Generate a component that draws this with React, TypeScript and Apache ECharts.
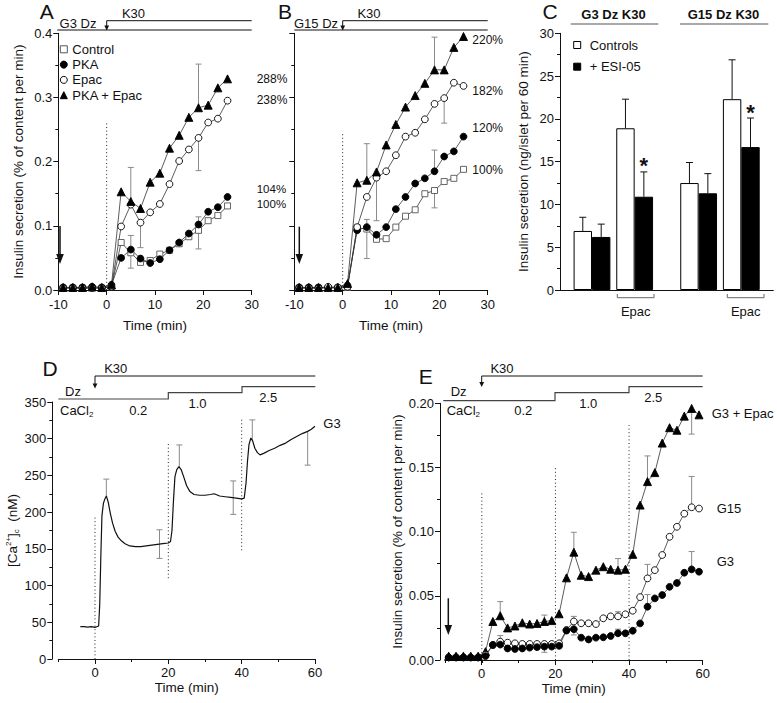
import React, { useEffect, useRef } from "react";
import * as echarts from "echarts";

const FONT = "Liberation Sans, Arial, Helvetica, sans-serif";
const INK = "#111";

// ---------- Panels A & B : perifusion time points (min) ----------
const timeAB = [-9, -7, -5, -3, -1, 1, 3, 5, 7, 9, 11, 13, 15, 17, 19, 21, 23, 25];
// Panel A (G3 Dz K30)
const aControl = [0.003, 0.003, 0.003, 0.003, 0.003, 0.005, 0.074, 0.058, 0.043, 0.046, 0.056, 0.062, 0.072, 0.083, 0.093, 0.108, 0.116, 0.131];
const aPKA = [0.004, 0.004, 0.004, 0.005, 0.004, 0.008, 0.05, 0.063, 0.049, 0.042, 0.048, 0.062, 0.074, 0.088, 0.102, 0.122, 0.129, 0.145];
const aEpac = [0.003, 0.003, 0.003, 0.003, 0.003, 0.005, 0.099, 0.133, 0.105, 0.121, 0.134, 0.165, 0.201, 0.219, 0.237, 0.261, 0.267, 0.295];
const aBoth = [0.004, 0.004, 0.004, 0.005, 0.004, 0.008, 0.153, 0.138, 0.127, 0.168, 0.182, 0.221, 0.241, 0.269, 0.284, 0.288, 0.315, 0.329];
// error bars: [time, from, to]
const aErr = [[5, 0.138, 0.191], [5, 0.063, 0.085], [5, 0.063, 0.034], [7, 0.105, 0.066], [19, 0.284, 0.352], [19, 0.237, 0.186], [19, 0.102, 0.114], [19, 0.093, 0.064]];
const aDotted = [[0, 0, 0.262]];
const aPercent = ["288%", "238%", "104%", "100%"];

// Panel B (G15 Dz K30)
const bControl = [0.003, 0.003, 0.003, 0.003, 0.003, 0.004, 0.097, 0.095, 0.079, 0.08, 0.098, 0.115, 0.125, 0.15, 0.155, 0.169, 0.174, 0.188];
const bPKA = [0.004, 0.004, 0.004, 0.004, 0.004, 0.007, 0.093, 0.098, 0.086, 0.098, 0.126, 0.145, 0.166, 0.174, 0.185, 0.208, 0.216, 0.239];
const bEpac = [0.003, 0.003, 0.003, 0.005, 0.004, 0.005, 0.098, 0.145, 0.175, 0.185, 0.21, 0.239, 0.245, 0.266, 0.29, 0.299, 0.323, 0.318];
const bBoth = [0.004, 0.004, 0.004, 0.004, 0.004, 0.01, 0.167, 0.171, 0.184, 0.226, 0.258, 0.285, 0.303, 0.322, 0.343, 0.343, 0.378, 0.395];
const bErr = [[5, 0.171, 0.228], [5, 0.098, 0.11], [5, 0.098, 0.049], [7, 0.175, 0.108], [19, 0.343, 0.394], [21, 0.299, 0.26], [19, 0.185, 0.218], [19, 0.155, 0.128]];
const bDotted = [[0, 0, 0.244]];
const bPercent = ["220%", "182%", "120%", "100%"];

// ---------- Panel C : bars ----------
const cCategories = ["s0", "G3", "s1", "G3 Epac", "s2", "s3", "G15", "s4", "G15 Epac", "s5"];
const cControls = ["-", 6.9, "-", 18.9, "-", "-", 12.5, "-", 22.3, "-"];
const cESI = ["-", 6.2, "-", 10.9, "-", "-", 11.3, "-", 16.7, "-"];
// [category index, mean, mean+SEM, side(-1 controls / +1 ESI), significant]
const cErr = [
  [1, 6.9, 8.5, -1, 0], [1, 6.2, 7.7, 1, 0],
  [3, 18.9, 22.3, -1, 0], [3, 10.9, 13.8, 1, 1],
  [6, 12.5, 14.9, -1, 0], [6, 11.3, 13.6, 1, 0],
  [8, 22.3, 26.9, -1, 0], [8, 16.7, 20.1, 1, 1],
];

// ---------- Panel D : [Ca2+]c trace ----------
const dTrace = [
  [-4, 44], [-3, 44], [-2, 43.5], [-1, 44], [0, 43], [0.5, 44], [1.0, 45], [1.3, 75], [1.6, 140], [1.9, 195],
  [2.3, 212], [2.7, 218], [3.1, 222], [3.6, 214], [4.2, 198], [4.8, 185], [5.5, 174], [6.3, 166], [7.2, 161],
  [8.2, 157], [9.5, 154], [11, 153], [12.5, 153], [14, 154], [15.5, 155], [17, 156], [18.5, 157], [20, 158],
  [20.6, 160], [21.0, 175], [21.4, 215], [21.8, 248], [22.3, 258], [22.9, 262], [23.5, 258], [24.2, 248],
  [25, 236], [25.9, 228], [27, 224], [28.5, 223], [30, 223], [31.5, 224], [32.5, 225], [34, 222], [35.5, 221],
  [37, 220], [38.5, 219], [40, 218], [40.7, 219], [41.2, 240], [41.6, 270], [42.0, 292], [42.5, 301],
  [43.0, 297], [43.6, 287], [44.3, 281], [45, 278], [46, 280], [47.5, 284], [49, 287], [50.5, 291], [52, 294],
  [53.5, 299], [55, 303], [56.5, 307], [58, 310], [59, 313], [60, 317],
];
const dErr = [[3.1, 222, 245], [17.6, 157, 176], [17.6, 157, 137], [23, 262, 291.5], [37.7, 220, 242.5], [37.7, 220, 197], [42.9, 298, 325.6], [58, 310, 264]];
const dDotted = [[0, 0, 194], [20, 110, 296], [40, 148, 326]];

// ---------- Panel E ----------
const timeE = [-9, -7, -5, -3, -1, 1, 3, 5, 7, 9, 11, 13, 15, 17, 19, 21, 23, 25, 27, 29, 31, 33, 35, 37, 39, 41, 43, 45, 47, 49, 51, 53, 55, 57, 59];
const eG3Epac = [0.003, 0.003, 0.003, 0.003, 0.003, 0.0065, 0.03, 0.0345, 0.025, 0.0265, 0.029, 0.028, 0.0285, 0.03, 0.0307, 0.036, 0.064, 0.084, 0.066, 0.065, 0.07, 0.0727, 0.0707, 0.07, 0.0707, 0.0823, 0.1207, 0.139, 0.146, 0.169, 0.181, 0.179, 0.19, 0.196, 0.191];
const eG15 = [0.002, 0.002, 0.002, 0.002, 0.002, 0.004, 0.0117, 0.0143, 0.0135, 0.013, 0.0125, 0.0125, 0.0125, 0.0125, 0.0125, 0.013, 0.0234, 0.03, 0.0286, 0.0286, 0.028, 0.0325, 0.034, 0.034, 0.0356, 0.0384, 0.049, 0.0636, 0.07, 0.0818, 0.096, 0.1038, 0.114, 0.119, 0.118];
const eG3 = [0.002, 0.002, 0.002, 0.002, 0.002, 0.003, 0.0117, 0.012, 0.009, 0.0086, 0.009, 0.0096, 0.01, 0.0104, 0.0104, 0.011, 0.0229, 0.024, 0.0174, 0.016, 0.0174, 0.0177, 0.0187, 0.0208, 0.0208, 0.0228, 0.0285, 0.0415, 0.048, 0.0506, 0.057, 0.06, 0.068, 0.0706, 0.0688];
const eErr = [
  [5, 0.0345, 0.0455], [17, 0.03, 0.035], [25, 0.084, 0.0995], [37, 0.07, 0.079], [45, 0.139, 0.159], [57, 0.196, 0.176],
  [5, 0.0143, 0.019], [17, 0.0104, 0.006], [25, 0.03, 0.034], [25, 0.024, 0.0195], [37, 0.034, 0.0376], [37, 0.0208, 0.024],
  [45, 0.0636, 0.0745], [45, 0.0415, 0.051], [57, 0.119, 0.143], [57, 0.0706, 0.0845],
];
const eDotted = [[0, 0, 0.131], [20, 0, 0.15], [40, 0, 0.183]];

const Y_NAME = "Insulin secretion (% of content per min)";

// ---------- renderers ----------
const errRender = (color: string, cap: number) => (params: any, api: any) => {
  const t = api.value(0);
  const p1 = api.coord([t, api.value(1)]);
  const p2 = api.coord([t, api.value(2)]);
  return {
    type: "group",
    children: [
      { type: "line", shape: { x1: p1[0], y1: p1[1], x2: p2[0], y2: p2[1] }, style: { stroke: color, lineWidth: 1 } },
      { type: "line", shape: { x1: p2[0] - cap, y1: p2[1], x2: p2[0] + cap, y2: p2[1] }, style: { stroke: color, lineWidth: 1 } },
    ],
  };
};

const dotRender = (params: any, api: any) => {
  const t = api.value(0);
  const p1 = api.coord([t, api.value(1)]);
  const p2 = api.coord([t, api.value(2)]);
  return {
    type: "line",
    shape: { x1: p1[0], y1: p1[1], x2: p2[0], y2: p2[1] },
    style: { stroke: "#222", lineWidth: 1, lineDash: [1, 2.6] },
  };
};

const BAR_W = 18.4;
const barErrRender = (params: any, api: any) => {
  const idx = api.value(0);
  const side = api.value(3);
  const star = api.value(4);
  const pBase = api.coord([idx, api.value(1)]);
  const pTop = api.coord([idx, api.value(2)]);
  const x = pBase[0] + (side * BAR_W) / 2;
  const children: any[] = [
    { type: "line", shape: { x1: x, y1: pBase[1], x2: x, y2: pTop[1] }, style: { stroke: "#111", lineWidth: 1 } },
    { type: "line", shape: { x1: x - 3.5, y1: pTop[1], x2: x + 3.5, y2: pTop[1] }, style: { stroke: "#111", lineWidth: 1 } },
  ];
  if (star) {
    children.push({
      type: "text",
      x,
      y: pTop[1] - 6,
      style: { text: "*", fill: "#111", fontSize: 22, fontWeight: "bold", fontFamily: FONT, textAlign: "center", textVerticalAlign: "middle" },
    });
  }
  return { type: "group", children };
};

// ---------- helpers ----------
const MARK: Record<string, any> = {
  square: { symbol: "rect", size: 6, fill: "#fff", stroke: "#555" },
  dot: { symbol: "circle", size: 6.8, fill: "#000", stroke: "#000" },
  ring: { symbol: "circle", size: 6.8, fill: "#fff", stroke: "#000" },
  tri: { symbol: "triangle", size: 8, fill: "#000", stroke: "#000" },
};

function markerSeries(name: string, t: number[], v: number[], idx: number, kind: string) {
  const m = MARK[kind];
  return {
    type: "line",
    name,
    xAxisIndex: idx,
    yAxisIndex: idx,
    data: t.map((x, i) => [x, v[i]]),
    symbol: m.symbol,
    symbolSize: m.size,
    showSymbol: true,
    lineStyle: { color: "#333", width: 0.8 },
    itemStyle: { color: m.fill, borderColor: m.stroke, borderWidth: 0.9 },
    emphasis: { disabled: true },
    z: 4,
  };
}

function customSeries(idx: number, data: any[], renderItem: any, z = 2) {
  return {
    type: "custom",
    xAxisIndex: idx,
    yAxisIndex: idx,
    data,
    renderItem,
    encode: { x: 0, y: [1, 2] },
    silent: true,
    z,
  };
}

function valueAxis(gridIndex: number, min: number, max: number, interval: number, opts: any = {}) {
  return {
    type: "value",
    gridIndex,
    min,
    max,
    interval,
    offset: opts.offset || 0,
    show: opts.show !== false,
    name: opts.name || "",
    nameLocation: "middle",
    nameGap: opts.nameGap || 25,
    nameMoveOverlap: false,
    nameTextStyle: { color: INK, fontSize: 13.5, fontFamily: FONT, rich: opts.rich },
    axisLine: { show: opts.line !== false, onZero: false, lineStyle: { color: INK, width: 1 } },
    axisTick: { show: opts.ticks !== false, length: opts.tickLen || 5, lineStyle: { color: INK, width: 1 } },
    minorTick: { show: !!opts.minor, splitNumber: opts.minor || 2, length: 3, lineStyle: { color: INK, width: 1 } },
    splitLine: { show: false },
    minorSplitLine: { show: false },
    axisLabel: {
      show: opts.labels !== false,
      color: INK,
      fontSize: 13,
      fontFamily: FONT,
      margin: opts.margin || 6,
      formatter: opts.formatter,
    },
  };
}

const T = (x: number, y: number, text: string, size = 13, align = "center", weight = "normal") => ({
  type: "text",
  x,
  y,
  silent: true,
  style: { text, fill: INK, fontSize: size, fontFamily: FONT, fontWeight: weight, textAlign: align, textVerticalAlign: "middle" },
});
const L = (x1: number, y1: number, x2: number, y2: number, color = INK, w = 1) => ({
  type: "line",
  silent: true,
  shape: { x1, y1, x2, y2 },
  style: { stroke: color, lineWidth: w },
});
const PL = (points: number[][], color = INK, w = 1) => ({
  type: "polyline",
  silent: true,
  shape: { points },
  style: { stroke: color, lineWidth: w, fill: null },
});
const TRI = (points: number[][]) => ({ type: "polygon", silent: true, shape: { points }, style: { fill: INK } });
const CACL = (x: number, y: number) => ({
  type: "text",
  x,
  y,
  silent: true,
  style: {
    text: "{a|CaCl}{b|2}",
    textAlign: "left",
    textVerticalAlign: "middle",
    rich: {
      a: { fontSize: 13, fontFamily: FONT, fill: INK, color: INK },
      b: { fontSize: 8, fontFamily: FONT, fill: INK, color: INK, padding: [8, 0, 0, 0] },
    },
  },
});
const smallArrow = (x: number, yTop: number, yTip: number) => [PL([[x, yTop], [x, yTip - 4]]), TRI([[x - 2.4, yTip - 5], [x + 2.4, yTip - 5], [x, yTip]])];
const bigArrow = (x: number, yTop: number, yTip: number) => [L(x, yTop, x, yTip - 8, INK, 1.5), TRI([[x - 3.8, yTip - 10], [x + 3.8, yTip - 10], [x, yTip]])];

function buildOption() {
  const graphic: any[] = [
    // Panel A
    T(46.7, 11, "A", 21),
    T(133.5, 13.5, "K30"),
    T(78, 23.5, "G3 Dz"),
    L(57.3, 30, 251.7, 30),
    PL([[251.7, 20.7], [106.7, 20.7]]),
    ...smallArrow(106.7, 20.7, 30.5),
    ...bigArrow(60, 226, 264),
    T(256.7, 78.7, aPercent[0], 12, "left"),
    T(256.7, 100, aPercent[1], 12, "left"),
    T(256.7, 189, aPercent[2], 11.5, "left"),
    T(256.7, 204, aPercent[3], 11.5, "left"),
    // Panel B
    T(285, 11.7, "B", 21),
    T(369, 13.5, "K30"),
    T(316, 23.5, "G15 Dz"),
    L(294.3, 30, 487.7, 30),
    PL([[487.7, 20.7], [342.7, 20.7]]),
    ...smallArrow(342.7, 20.7, 30.5),
    ...bigArrow(299.3, 226.7, 264),
    T(472.3, 40, bPercent[0], 12, "left"),
    T(472.3, 90.7, bPercent[1], 12, "left"),
    T(472.3, 128.3, bPercent[2], 12, "left"),
    T(472.3, 170, bPercent[3], 12, "left"),
    // Panel C
    T(550, 11.7, "C", 21),
    T(613.5, 14.5, "G3 Dz K30", 13, "center", "bold"),
    L(570.7, 24, 658.3, 24, "#555", 1.2),
    T(723.5, 14.5, "G15 Dz K30", 13, "center", "bold"),
    L(680, 24, 768.3, 24, "#555", 1.2),
    PL([[617.3, 294], [617.3, 297.7], [654, 297.7], [654, 294]], "#666"),
    T(635.7, 311.7, "Epac"),
    PL([[727.3, 294], [727.3, 297.7], [764, 297.7], [764, 294]], "#666"),
    T(745.7, 311.7, "Epac"),
    // Panel D
    T(50, 368.3, "D", 21),
    T(115.7, 368.3, "K30"),
    PL([[315.3, 376], [95, 376]]),
    ...smallArrow(95, 376, 388.5),
    T(65, 391.7, "Dz", 13, "left"),
    PL([[58.3, 399], [168.3, 399], [168.3, 392.7], [242, 392.7], [242, 386.7], [315.3, 386.7]], "#444", 1.2),
    CACL(60, 410),
    T(138.3, 410, "0.2"),
    T(197.5, 403.3, "1.0"),
    T(268.3, 397.3, "2.5"),
    T(323.3, 423.3, "G3", 13, "left"),
    // Panel E
    T(425.8, 376.7, "E", 21),
    T(502, 368.3, "K30"),
    PL([[702.7, 376], [481.7, 376]]),
    ...smallArrow(481.7, 376, 387),
    T(450.7, 391.7, "Dz", 13, "left"),
    PL([[443.3, 400.7], [555, 400.7], [555, 392.7], [629, 392.7], [629, 386.7], [702.7, 386.7]], "#444", 1.2),
    CACL(446.7, 410.7),
    T(523.3, 410.7, "0.2"),
    T(588.3, 403.3, "1.0"),
    T(653.3, 397.3, "2.5"),
    ...bigArrow(448.3, 598.3, 635),
    T(711.7, 413.3, "G3 + Epac", 13, "left"),
    T(716.7, 508.3, "G15", 13, "left"),
    T(716.7, 561.7, "G3", 13, "left"),
  ];

  const grid = [
    { left: 58.3, top: 33.3, width: 193.4, height: 256.7 },
    { left: 294.3, top: 33.3, width: 193.4, height: 256.7 },
    { left: 560, top: 33.3, width: 213.3, height: 256.7 },
    { left: 58.3, top: 402, width: 256.7, height: 257 },
    { left: 445, top: 403.3, width: 257.7, height: 256.7 },
    { left: 95, top: 402, width: 220, height: 257 },
    { left: 481.7, top: 403.3, width: 221, height: 256.7 },
  ].map((g) => ({ ...g, containLabel: false, outerBoundsMode: "none" }));

  const xAxis: any[] = [
    valueAxis(0, -10, 30, 10, { name: "Time (min)", nameGap: 28, margin: 8 }),
    valueAxis(1, -10, 30, 10, { name: "Time (min)", nameGap: 28, margin: 8 }),
    {
      type: "category",
      gridIndex: 2,
      data: cCategories,
      axisLine: { show: true, onZero: false, lineStyle: { color: INK, width: 1 } },
      axisTick: { show: false },
      axisLabel: { show: false },
      splitLine: { show: false },
    },
    valueAxis(3, -10, 60, 10, { name: "Time (min)", nameGap: 21, labels: false, tickLen: 3 }),
    valueAxis(4, -10, 60, 10, { name: "Time (min)", nameGap: 21, labels: false, tickLen: 3 }),
    valueAxis(5, 0, 60, 20, { line: false, tickLen: 5, margin: 7 }),
    valueAxis(6, 0, 60, 20, { line: false, tickLen: 5, margin: 7 }),
  ];

  const yAxis: any[] = [
    valueAxis(0, 0, 0.4, 0.1, { name: Y_NAME, nameGap: 33, minor: 2, formatter: (v: number) => v.toFixed(1) }),
    valueAxis(1, 0, 0.4, 0.1, { labels: false, minor: 2 }),
    valueAxis(2, 0, 30, 5, { name: "Insulin secretion (ng/islet per 60 min)", nameGap: 30, minor: 2 }),
    valueAxis(3, 0, 350, 50, {
      name: "[Ca{sup|2+}]{sub|c}  (nM)",
      nameGap: 32,
      minor: 2,
      offset: 6,
      rich: {
        sup: { fontSize: 8, fontFamily: FONT, color: INK, padding: [0, 0, 8, 0] },
        sub: { fontSize: 8, fontFamily: FONT, color: INK, padding: [8, 0, 0, 0] },
      },
    }),
    valueAxis(4, 0, 0.2, 0.05, { name: Y_NAME, nameGap: 36, minor: 2, offset: 5, formatter: (v: number) => v.toFixed(2) }),
    { type: "value", gridIndex: 5, min: 0, max: 1, show: false },
    { type: "value", gridIndex: 6, min: 0, max: 1, show: false },
  ];

  const series: any[] = [
    // A
    customSeries(0, aDotted, dotRender, 1),
    customSeries(0, aErr, errRender("#8a8a8a", 3)),
    markerSeries("Control", timeAB, aControl, 0, "square"),
    markerSeries("PKA", timeAB, aPKA, 0, "dot"),
    markerSeries("Epac", timeAB, aEpac, 0, "ring"),
    markerSeries("PKA + Epac", timeAB, aBoth, 0, "tri"),
    // B
    customSeries(1, bDotted, dotRender, 1),
    customSeries(1, bErr, errRender("#8a8a8a", 3)),
    markerSeries("Control", timeAB, bControl, 1, "square"),
    markerSeries("PKA", timeAB, bPKA, 1, "dot"),
    markerSeries("Epac", timeAB, bEpac, 1, "ring"),
    markerSeries("PKA + Epac", timeAB, bBoth, 1, "tri"),
    // C
    {
      type: "bar",
      name: "Controls",
      xAxisIndex: 2,
      yAxisIndex: 2,
      data: cControls,
      barWidth: BAR_W,
      barGap: "0%",
      itemStyle: { color: "#fff", borderColor: "#000", borderWidth: 1 },
      emphasis: { disabled: true },
      z: 2,
    },
    {
      type: "bar",
      name: "+ ESI-05",
      xAxisIndex: 2,
      yAxisIndex: 2,
      data: cESI,
      barWidth: BAR_W,
      barGap: "0%",
      itemStyle: { color: "#000", borderColor: "#000", borderWidth: 1 },
      emphasis: { disabled: true },
      z: 2,
    },
    customSeries(2, cErr, barErrRender, 3),
    // D
    customSeries(3, dDotted, dotRender, 1),
    customSeries(3, dErr, errRender("#8a8a8a", 3)),
    {
      type: "line",
      name: "G3 [Ca2+]c",
      xAxisIndex: 3,
      yAxisIndex: 3,
      data: dTrace,
      showSymbol: false,
      symbol: "none",
      lineStyle: { color: "#111", width: 1.2 },
      emphasis: { disabled: true },
      z: 4,
    },
    // E
    customSeries(4, eDotted, dotRender, 1),
    customSeries(4, eErr, errRender("#8a8a8a", 3)),
    markerSeries("G3 + Epac", timeE, eG3Epac, 4, "tri"),
    markerSeries("G15", timeE, eG15, 4, "ring"),
    markerSeries("G3", timeE, eG3, 4, "dot"),
  ];

  const legend = [
    {
      orient: "vertical",
      left: 59.8,
      top: 42.8,
      padding: 0,
      itemWidth: 7,
      itemHeight: 7,
      itemGap: 2.3,
      selectedMode: false,
      textStyle: { color: INK, fontSize: 13, fontFamily: FONT },
      data: [
        { name: "Control", icon: "rect", itemStyle: { color: "#fff", borderColor: "#555", borderWidth: 1 } },
        { name: "PKA", icon: "circle", itemStyle: { color: "#000", borderColor: "#000", borderWidth: 1 } },
        { name: "Epac", icon: "circle", itemStyle: { color: "#fff", borderColor: "#000", borderWidth: 1 } },
        { name: "PKA + Epac", icon: "triangle", itemStyle: { color: "#000", borderColor: "#000", borderWidth: 1 } },
      ],
    },
    {
      orient: "vertical",
      left: 573.2,
      top: 38.5,
      padding: 0,
      itemWidth: 7,
      itemHeight: 7,
      itemGap: 8.7,
      selectedMode: false,
      textStyle: { color: INK, fontSize: 13, fontFamily: FONT, padding: [0, 0, 0, 4] },
      data: [
        { name: "Controls", icon: "rect", itemStyle: { color: "#fff", borderColor: "#000", borderWidth: 1 } },
        { name: "+ ESI-05", icon: "rect", itemStyle: { color: "#000", borderColor: "#000", borderWidth: 1 } },
      ],
    },
  ];

  return {
    animation: false,
    backgroundColor: "#fff",
    textStyle: { fontFamily: FONT },
    grid,
    xAxis,
    yAxis,
    legend,
    series,
    graphic,
  };
}

export default function App() {
  const ref = useRef<HTMLDivElement>(null);
  useEffect(() => {
    const chart = echarts.init(ref.current as HTMLDivElement, null, { renderer: "svg" });
    chart.setOption(buildOption() as any);
    return () => chart.dispose();
  }, []);
  return (
    <div
      ref={ref}
      style={{ position: "fixed", left: 0, top: 0, width: 777, height: 703, background: "#fff" }}
    />
  );
}
